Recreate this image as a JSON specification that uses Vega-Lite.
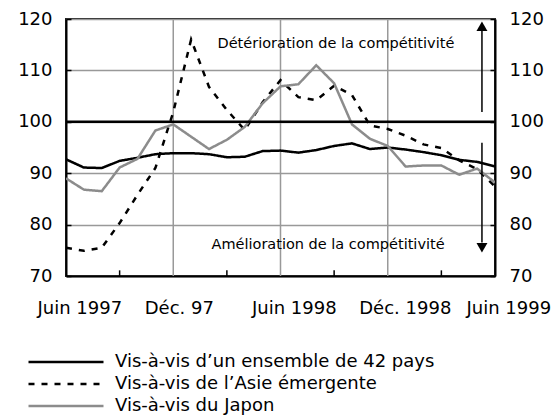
{
  "$schema": "https://vega.github.io/schema/vega-lite/v6.json",
  "autosize": "none",
  "width": 429,
  "height": 257,
  "padding": {"left": 66, "top": 19, "right": 65, "bottom": 140},
  "background": "white",
  "config": {
    "font": "DejaVu Sans",
    "view": {"stroke": "#222", "strokeWidth": 2},
    "axis": {"labelFont": "DejaVu Sans", "labelFontSize": 18, "labelFontWeight": "normal", "labelColor": "black", "domainColor": "black", "domainWidth": 2, "tickColor": "black", "tickWidth": 1.5},
    "legend": {"labelFont": "DejaVu Sans", "labelFontSize": 18, "labelColor": "black", "labelLimit": 0}
  },
  "datasets": {
    "series": [
      {"m": 0, "s": "Vis-à-vis d’un ensemble de 42 pays", "v": 92.7},
      {"m": 1, "s": "Vis-à-vis d’un ensemble de 42 pays", "v": 91.1},
      {"m": 2, "s": "Vis-à-vis d’un ensemble de 42 pays", "v": 91.0},
      {"m": 3, "s": "Vis-à-vis d’un ensemble de 42 pays", "v": 92.4},
      {"m": 4, "s": "Vis-à-vis d’un ensemble de 42 pays", "v": 93.0},
      {"m": 5, "s": "Vis-à-vis d’un ensemble de 42 pays", "v": 93.7},
      {"m": 6, "s": "Vis-à-vis d’un ensemble de 42 pays", "v": 93.9},
      {"m": 7, "s": "Vis-à-vis d’un ensemble de 42 pays", "v": 93.9},
      {"m": 8, "s": "Vis-à-vis d’un ensemble de 42 pays", "v": 93.7},
      {"m": 9, "s": "Vis-à-vis d’un ensemble de 42 pays", "v": 93.1},
      {"m": 10, "s": "Vis-à-vis d’un ensemble de 42 pays", "v": 93.2},
      {"m": 11, "s": "Vis-à-vis d’un ensemble de 42 pays", "v": 94.3},
      {"m": 12, "s": "Vis-à-vis d’un ensemble de 42 pays", "v": 94.4},
      {"m": 13, "s": "Vis-à-vis d’un ensemble de 42 pays", "v": 94.0},
      {"m": 14, "s": "Vis-à-vis d’un ensemble de 42 pays", "v": 94.5},
      {"m": 15, "s": "Vis-à-vis d’un ensemble de 42 pays", "v": 95.3},
      {"m": 16, "s": "Vis-à-vis d’un ensemble de 42 pays", "v": 95.8},
      {"m": 17, "s": "Vis-à-vis d’un ensemble de 42 pays", "v": 94.7},
      {"m": 18, "s": "Vis-à-vis d’un ensemble de 42 pays", "v": 95.0},
      {"m": 19, "s": "Vis-à-vis d’un ensemble de 42 pays", "v": 94.6},
      {"m": 20, "s": "Vis-à-vis d’un ensemble de 42 pays", "v": 94.1},
      {"m": 21, "s": "Vis-à-vis d’un ensemble de 42 pays", "v": 93.5},
      {"m": 22, "s": "Vis-à-vis d’un ensemble de 42 pays", "v": 92.6},
      {"m": 23, "s": "Vis-à-vis d’un ensemble de 42 pays", "v": 92.2},
      {"m": 24, "s": "Vis-à-vis d’un ensemble de 42 pays", "v": 91.3},
      {"m": 0, "s": "Vis-à-vis de l’Asie émergente", "v": 75.5},
      {"m": 1, "s": "Vis-à-vis de l’Asie émergente", "v": 74.9},
      {"m": 2, "s": "Vis-à-vis de l’Asie émergente", "v": 75.5},
      {"m": 3, "s": "Vis-à-vis de l’Asie émergente", "v": 80.3},
      {"m": 4, "s": "Vis-à-vis de l’Asie émergente", "v": 85.8},
      {"m": 5, "s": "Vis-à-vis de l’Asie émergente", "v": 91.0},
      {"m": 6, "s": "Vis-à-vis de l’Asie émergente", "v": 101.9},
      {"m": 7, "s": "Vis-à-vis de l’Asie émergente", "v": 116.0},
      {"m": 8, "s": "Vis-à-vis de l’Asie émergente", "v": 106.8},
      {"m": 9, "s": "Vis-à-vis de l’Asie émergente", "v": 102.3},
      {"m": 10, "s": "Vis-à-vis de l’Asie émergente", "v": 98.4},
      {"m": 11, "s": "Vis-à-vis de l’Asie émergente", "v": 103.8},
      {"m": 12, "s": "Vis-à-vis de l’Asie émergente", "v": 108.1},
      {"m": 13, "s": "Vis-à-vis de l’Asie émergente", "v": 104.8},
      {"m": 14, "s": "Vis-à-vis de l’Asie émergente", "v": 104.2},
      {"m": 15, "s": "Vis-à-vis de l’Asie émergente", "v": 107.0},
      {"m": 16, "s": "Vis-à-vis de l’Asie émergente", "v": 105.2},
      {"m": 17, "s": "Vis-à-vis de l’Asie émergente", "v": 99.3},
      {"m": 18, "s": "Vis-à-vis de l’Asie émergente", "v": 98.6},
      {"m": 19, "s": "Vis-à-vis de l’Asie émergente", "v": 97.3},
      {"m": 20, "s": "Vis-à-vis de l’Asie émergente", "v": 95.6},
      {"m": 21, "s": "Vis-à-vis de l’Asie émergente", "v": 94.9},
      {"m": 22, "s": "Vis-à-vis de l’Asie émergente", "v": 92.5},
      {"m": 23, "s": "Vis-à-vis de l’Asie émergente", "v": 90.8},
      {"m": 24, "s": "Vis-à-vis de l’Asie émergente", "v": 87.4},
      {"m": 0, "s": "Vis-à-vis du Japon", "v": 89.0},
      {"m": 1, "s": "Vis-à-vis du Japon", "v": 86.8},
      {"m": 2, "s": "Vis-à-vis du Japon", "v": 86.5},
      {"m": 3, "s": "Vis-à-vis du Japon", "v": 91.1},
      {"m": 4, "s": "Vis-à-vis du Japon", "v": 92.8},
      {"m": 5, "s": "Vis-à-vis du Japon", "v": 98.3},
      {"m": 6, "s": "Vis-à-vis du Japon", "v": 99.5},
      {"m": 7, "s": "Vis-à-vis du Japon", "v": 97.1},
      {"m": 8, "s": "Vis-à-vis du Japon", "v": 94.7},
      {"m": 9, "s": "Vis-à-vis du Japon", "v": 96.5},
      {"m": 10, "s": "Vis-à-vis du Japon", "v": 99.0},
      {"m": 11, "s": "Vis-à-vis du Japon", "v": 103.6},
      {"m": 12, "s": "Vis-à-vis du Japon", "v": 106.9},
      {"m": 13, "s": "Vis-à-vis du Japon", "v": 107.3},
      {"m": 14, "s": "Vis-à-vis du Japon", "v": 111.0},
      {"m": 15, "s": "Vis-à-vis du Japon", "v": 107.5},
      {"m": 16, "s": "Vis-à-vis du Japon", "v": 99.5},
      {"m": 17, "s": "Vis-à-vis du Japon", "v": 96.7},
      {"m": 18, "s": "Vis-à-vis du Japon", "v": 95.3},
      {"m": 19, "s": "Vis-à-vis du Japon", "v": 91.3},
      {"m": 20, "s": "Vis-à-vis du Japon", "v": 91.5},
      {"m": 21, "s": "Vis-à-vis du Japon", "v": 91.5},
      {"m": 22, "s": "Vis-à-vis du Japon", "v": 89.7},
      {"m": 23, "s": "Vis-à-vis du Japon", "v": 90.9},
      {"m": 24, "s": "Vis-à-vis du Japon", "v": 88.2}
    ],
    "vgrid": [{"m": 6}, {"m": 12}, {"m": 18}],
    "xticks": [{"m": 3, "a": 70, "b": 71.1}, {"m": 9, "a": 70, "b": 71.1}, {"m": 15, "a": 70, "b": 71.1}, {"m": 21, "a": 70, "b": 71.1}],
    "notes": [
      {"m": 15.1, "v": 115.1, "t": "Détérioration de la compétitivité"},
      {"m": 14.66, "v": 76.0, "t": "Amélioration de la compétitivité"}
    ],
    "arrows": [
      {"m": 23.27, "v1": 101.9, "v2": 118.0, "head": 118.6, "shape": "triangle-up"},
      {"m": 23.27, "v1": 95.9, "v2": 76.5, "head": 75.5, "shape": "triangle-down"}
    ]
  },
  "encoding": {
    "x": {
      "field": "m", "type": "quantitative",
      "scale": {"domain": [0, 24], "nice": false, "zero": false},
      "axis": {
        "title": null,
        "values": [0, 6, 12, 18, 24],
        "labelExpr": "datum.value == 0 ? 'Juin 1997' : datum.value == 6 ? 'Déc. 97' : datum.value == 12 ? 'Juin 1998' : datum.value == 18 ? 'Déc. 1998' : 'Juin 1999'",
        "labelAlign": "left",
        "labelOffset": -29,
        "labelPadding": 23,
        "labelFlush": false,
        "labelOverlap": false,
        "ticks": false,
        "grid": false
      }
    }
  },
  "layer": [
    {
      "data": {"name": "vgrid"},
      "mark": {"type": "rule", "color": "#999999", "strokeWidth": 1.5},
      "encoding": {}
    },
    {
      "data": {"name": "series"},
      "mark": {"type": "line", "strokeWidth": 2.5, "clip": true},
      "encoding": {
        "y": {
          "field": "v", "type": "quantitative",
          "scale": {"domain": [70, 120], "nice": false, "zero": false},
          "axis": {
            "title": null, "orient": "left",
            "values": [70, 80, 90, 100, 110, 120],
            "tickSize": -5,
            "labelPadding": 19,
            "grid": true, "gridColor": "#999999", "gridWidth": 1.5
          }
        },
        "color": {
          "field": "s", "type": "nominal",
          "scale": {"domain": ["Vis-à-vis d’un ensemble de 42 pays", "Vis-à-vis de l’Asie émergente", "Vis-à-vis du Japon"], "range": ["#000000", "#000000", "#8c8c8c"]},
          "legend": {
            "title": null, "orient": "none", "legendX": -9, "legendY": 334,
            "symbolType": "M-5,0H5", "symbolSize": 225, "symbolStrokeWidth": 2.5,
            "labelOffset": 40, "rowPadding": 4, "padding": 0, "labelLimit": 0
          }
        },
        "strokeDash": {
          "field": "s", "type": "nominal",
          "scale": {"domain": ["Vis-à-vis d’un ensemble de 42 pays", "Vis-à-vis de l’Asie émergente", "Vis-à-vis du Japon"], "range": [[1, 0], [6, 7], [1, 0]]},
          "legend": {
            "title": null, "orient": "none", "legendX": -9, "legendY": 334,
            "symbolType": "M-5,0H5", "symbolSize": 225, "symbolStrokeWidth": 2.5,
            "labelOffset": 40, "rowPadding": 4, "padding": 0, "labelLimit": 0
          }
        }
      }
    },
    {
      "data": {"name": "xticks"},
      "mark": {"type": "rule", "color": "black", "strokeWidth": 1.5},
      "encoding": {
        "y": {"field": "a", "type": "quantitative", "axis": null},
        "y2": {"field": "b"}
      }
    },
    {
      "data": {"values": [{"v": 100, "m": 0, "m2": 24}]},
      "mark": {"type": "rule", "color": "black", "strokeWidth": 2.5},
      "encoding": {
        "x2": {"field": "m2"},
        "y": {
          "field": "v", "type": "quantitative",
          "axis": {
            "title": null, "orient": "right",
            "values": [70, 80, 90, 100, 110, 120],
            "tickSize": -5,
            "labelPadding": 19,
            "grid": false
          }
        }
      }
    },
    {
      "data": {"name": "notes"},
      "mark": {"type": "text", "font": "DejaVu Sans", "fontSize": 14.5, "color": "black", "align": "center", "baseline": "middle"},
      "encoding": {
        "y": {"field": "v", "type": "quantitative", "axis": null},
        "text": {"field": "t"}
      }
    },
    {
      "data": {"name": "arrows"},
      "mark": {"type": "rule", "color": "black", "strokeWidth": 1.5},
      "encoding": {
        "y": {"field": "v1", "type": "quantitative", "axis": null},
        "y2": {"field": "v2"}
      }
    },
    {
      "data": {"name": "arrows"},
      "mark": {"type": "point", "filled": true, "color": "black", "opacity": 1, "size": 120},
      "encoding": {
        "y": {"field": "head", "type": "quantitative", "axis": null},
        "shape": {"field": "shape", "type": "nominal", "scale": null, "legend": null}
      }
    }
  ],
  "resolve": {"axis": {"y": "independent"}}
}
